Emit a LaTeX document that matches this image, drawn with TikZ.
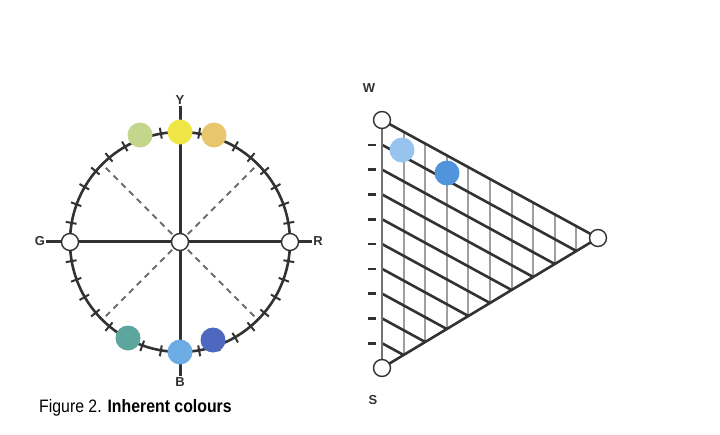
\documentclass[tikz,border=0pt]{standalone}
\usepackage{fontspec}
\setmainfont{Liberation Sans}
\newfontfamily\capfont{Liberation Sans}[FakeStretch=0.88]
\usetikzlibrary{positioning, calc}
\definecolor{inkgrey}{RGB}{50,50,50}
\definecolor{huegreen}{RGB}{196,214,140}
\definecolor{hueyellow}{RGB}{240,230,70}
\definecolor{hueorange}{RGB}{232,198,110}
\definecolor{hueteal}{RGB}{92,166,158}
\definecolor{hueblue}{RGB}{108,172,228}
\definecolor{huedeep}{RGB}{78,104,192}
\definecolor{dotlight}{RGB}{150,196,238}
\definecolor{dotmid}{RGB}{80,148,220}
\tikzset{
  axis/.style={line width=3pt, inkgrey},
  diag/.style={line width=2pt, dash pattern=on 6pt off 5pt, gray!85!black},
  rim/.style={line width=2.6pt, inkgrey},
  endpt/.style={circle, draw=inkgrey, fill=white, line width=1.4pt, minimum size=17pt, inner sep=0pt},
  hue/.style={circle, minimum size=25pt, inner sep=0pt},
  lbl/.style={font=\bfseries\fontsize{13}{14}\selectfont, text=inkgrey, inner sep=1pt},
  blackline/.style={line width=2.6pt, inkgrey},
  chromline/.style={line width=2pt, gray!75}
}
\begin{document}
\begin{tikzpicture}[x=1pt,y=-1pt]
  \useasboundingbox (0,0) rectangle (720,434);
  % colour circle
  \coordinate (o) at (180,242);
  \draw[rim] (o) circle[radius=110];
  \foreach \a in {0,10,...,350}
    \draw[rim, line width=2pt] ($(o)+(\a:105)$) -- ($(o)+(\a:116)$);
  \foreach \a in {45,135,225,315}
    \draw[diag] (o) -- ($(o)+(\a:107)$);
  \node[lbl] (labY) at (180,100) {Y};
  \node[lbl] (labB) at (180,382) {B};
  \node[lbl] (labG) at (40,241) {G};
  \node[lbl] (labR) at (318,241) {R};
  \draw[axis] (labY) -- (labB);
  \draw[axis] (labG) -- (labR);
  \node[endpt] (ptG) at (70,242) {};
  \node[endpt] (ptR) at (290,242) {};
  \node[endpt] (ctr) at (o) {};
  \node[hue, fill=huegreen] (hGY) at (140,135) {};
  \node[hue, fill=hueorange] (hYR) at (214,135) {};
  \node[hue, fill=hueyellow] (hY) at (180,132) {};
  \node[hue, fill=hueteal] (hBG) at (128,338) {};
  \node[hue, fill=huedeep] (hRB) at (213,340) {};
  \node[hue, fill=hueblue] (hB) at (180,352) {};
  % triangle
  \coordinate (W) at (382,120);
  \coordinate (S) at (382,368);
  \coordinate (C) at (598,238);
  \foreach \i in {1,...,9}
    \draw[chromline] ($(W)!\i/10!(C)$) -- ($(S)!\i/10!(C)$);
  \foreach \i in {0,...,9}
    \draw[blackline] ($(W)!\i/10!(S)$) -- ($(C)!\i/10!(S)$);
  \draw[blackline] (S) -- (C);
  \draw[chromline, gray!90!black] (W) -- (S);
  \foreach \i in {1,...,9}
    \draw[blackline] ($(W)!\i/10!(S)+(-14,0)$) -- ++(8,0);
  \node[endpt] (ptW) at (W) {};
  \node[endpt] (ptS) at (S) {};
  \node[endpt] (ptC) at (C) {};
  \node[lbl] (labW) at (369,88) {W};
  \node[lbl] (labS) at (373,400) {S};
  \node[hue, fill=dotlight] (lightdot) at (402,150) {};
  \node[hue, fill=dotmid] (middot) at (447,173) {};
  % caption
  \node[anchor=base west, inner sep=0pt, font=\capfont\fontsize{18}{20}\selectfont] (cap) at (39,412) {Figure 2. \textbf{Inherent colours}};
\end{tikzpicture}
\end{document}
